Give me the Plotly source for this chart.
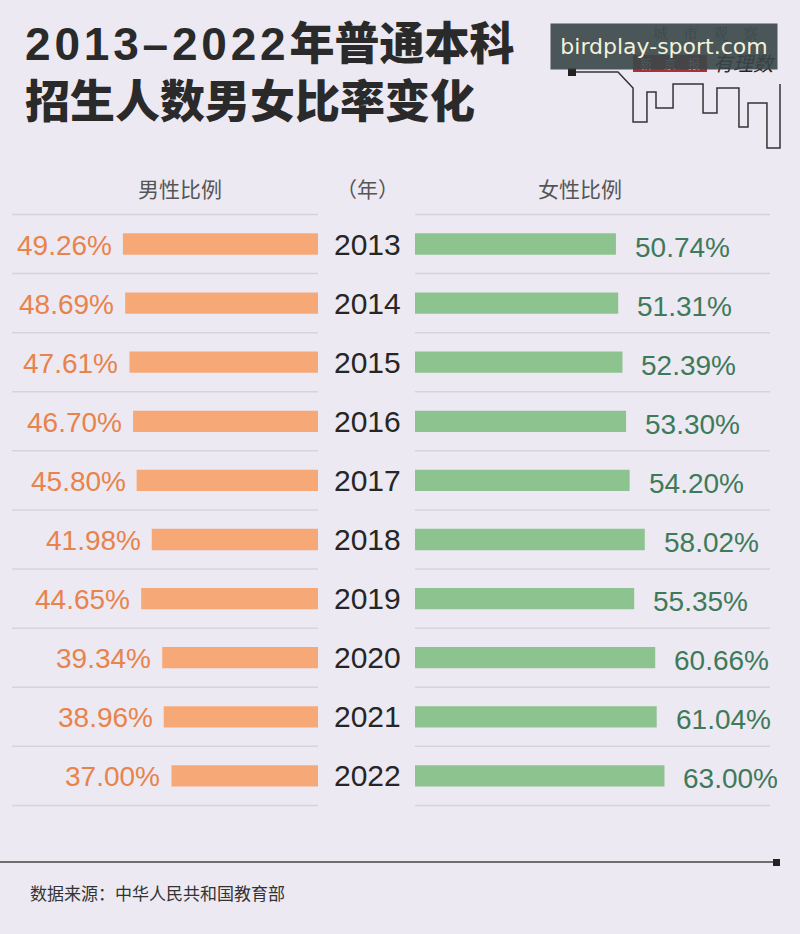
import plotly.graph_objects as go

years = ["2013", "2014", "2015", "2016", "2017", "2018", "2019", "2020", "2021", "2022"]
male = [49.26, 48.69, 47.61, 46.70, 45.80, 41.98, 44.65, 39.34, 38.96, 37.00]
female = [50.74, 51.31, 52.39, 53.30, 54.20, 58.02, 55.35, 60.66, 61.04, 63.00]
male_labels = ["49.26%", "48.69%", "47.61%", "46.70%", "45.80%", "41.98%", "44.65%", "39.34%", "38.96%", "37.00%"]
female_labels = ["50.74%", "51.31%", "52.39%", "53.30%", "54.20%", "58.02%", "55.35%", "60.66%", "61.04%", "63.00%"]

W, H = 800, 934
BG = "#ECE9F2"
ORANGE_BAR = "#F7A877"
ORANGE_TXT = "#E8834C"
GREEN_BAR = "#8DC38F"
GREEN_TXT = "#3E7A5A"
LINE = "#D5D4DA"
LATIN = "Liberation Sans, Arial, sans-serif"
CJK = "Noto Sans CJK SC, sans-serif"

PX_PER_PCT = 3.96
MALE_ZERO = 318
FEMALE_ZERO = 415
ROW0 = 244
ROW_STEP = 59.1

fig = go.Figure()

fig.add_trace(go.Bar(
    y=years, x=male, orientation="h", xaxis="x", yaxis="y",
    marker=dict(color=ORANGE_BAR, line=dict(width=0)), width=0.36,
    hoverinfo="skip", showlegend=False,
))
fig.add_trace(go.Bar(
    y=years, x=female, orientation="h", xaxis="x2", yaxis="y",
    marker=dict(color=GREEN_BAR, line=dict(width=0)), width=0.36,
    hoverinfo="skip", showlegend=False,
))

y_top = -ROW0 / ROW_STEP
y_bot = (H - ROW0) / ROW_STEP

fig.update_layout(
    width=W, height=H,
    margin=dict(l=0, r=0, t=0, b=0),
    paper_bgcolor=BG, plot_bgcolor="rgba(0,0,0,0)",
    xaxis=dict(domain=[0, MALE_ZERO / W], range=[MALE_ZERO / PX_PER_PCT, 0],
               visible=False, fixedrange=True),
    xaxis2=dict(domain=[FEMALE_ZERO / W, 1], range=[0, (W - FEMALE_ZERO) / PX_PER_PCT],
                visible=False, fixedrange=True),
    yaxis=dict(type="category", categoryorder="array", categoryarray=years,
               range=[y_bot, y_top], visible=False, domain=[0, 1], fixedrange=True),
)

shapes = []
for i in range(len(years) + 1):
    yv = i - 0.5
    shapes.append(dict(type="line", xref="paper", yref="y", x0=12 / W, x1=MALE_ZERO / W,
                       y0=yv, y1=yv, line=dict(color=LINE, width=1.5)))
    shapes.append(dict(type="line", xref="paper", yref="y", x0=FEMALE_ZERO / W, x1=770 / W,
                       y0=yv, y1=yv, line=dict(color=LINE, width=1.5)))
shapes.append(dict(type="line", xref="paper", yref="paper", x0=0, x1=776 / W,
                   y0=1 - 862 / H, y1=1 - 862 / H, line=dict(color="#444444", width=1.5)))
shapes.append(dict(type="rect", xref="paper", yref="paper", x0=773 / W, x1=780 / W,
                   y0=1 - 866 / H, y1=1 - 859 / H, fillcolor="#222222", line=dict(width=0)))

sky = [(572, 72), (618, 72), (633, 88), (633, 122), (647, 122), (647, 92), (656, 92),
       (656, 108), (673, 108), (673, 84), (703, 84), (703, 113), (717, 113), (717, 88),
       (739, 88), (739, 127), (748, 127), (748, 103), (767, 103), (767, 148), (780, 148),
       (780, 84)]
path = "M " + " L ".join(f"{x / W:.4f},{1 - y / H:.4f}" for x, y in sky)
shapes.append(dict(type="path", xref="paper", yref="paper", path=path,
                   line=dict(color="#333333", width=1.5)))
shapes.append(dict(type="rect", xref="paper", yref="paper", x0=568 / W, x1=576 / W,
                   y0=1 - 76 / H, y1=1 - 68 / H, fillcolor="#222222", line=dict(width=0)))
shapes.append(dict(type="rect", xref="paper", yref="paper", x0=633 / W, x1=707 / W,
                   y0=1 - 72 / H, y1=1 - 55 / H, fillcolor="#A8323A", line=dict(width=0)))

annotations = []
title_font = dict(family="Liberation Sans, Noto Sans CJK SC, sans-serif", size=45, color="#2A2A2A", weight=900)
annotations.append(dict(
    text='<span style="font-size:46px;letter-spacing:3.8px">2013–2022</span>年普通本科',
    x=23 / W, y=1 - 44 / H, xref="paper", yref="paper",
    xanchor="left", yanchor="middle", showarrow=False, font=title_font))
annotations.append(dict(text="招生人数男女比率变化", x=23 / W, y=1 - 103 / H, xref="paper", yref="paper",
                        xanchor="left", yanchor="middle", showarrow=False, font=title_font))
for txt, xc in [("男性比例", 180), ("（年）", 367), ("女性比例", 580)]:
    annotations.append(dict(text=txt, x=xc / W, y=1 - 188 / H, xref="paper", yref="paper",
                            xanchor="center", yanchor="middle", showarrow=False,
                            font=dict(family=CJK, size=21, color="#555555")))
for i, yr in enumerate(years):
    annotations.append(dict(text=yr, x=367 / W, y=i, xref="paper", yref="y",
                            xanchor="center", yanchor="middle", showarrow=False,
                            font=dict(family=LATIN, size=30, color="#262626")))
    annotations.append(dict(text=male_labels[i], x=male[i], y=i, xref="x", yref="y",
                            xanchor="right", yanchor="middle", xshift=-9, yshift=-1, showarrow=False,
                            font=dict(family=LATIN, size=28, color=ORANGE_TXT)))
    annotations.append(dict(text=female_labels[i], x=female[i], y=i, xref="x2", yref="y",
                            xanchor="left", yanchor="middle", xshift=17, yshift=-3, showarrow=False,
                            font=dict(family=LATIN, size=28, color=GREEN_TXT)))
annotations.append(dict(text="数据来源：中华人民共和国教育部", x=28 / W, y=1 - 892 / H, xref="paper", yref="paper",
                        xanchor="left", yanchor="middle", showarrow=False,
                        font=dict(family=CJK, size=17, color="#333333")))
# logo texts
annotations.append(dict(text="城　市　观　察", x=705 / W, y=1 - 32 / H, xref="paper", yref="paper",
                        xanchor="center", yanchor="middle", showarrow=False,
                        font=dict(family="Noto Serif CJK SC, " + CJK, size=15, color="#666666")))
annotations.append(dict(text="新　京　报", x=670 / W, y=1 - 64 / H, xref="paper", yref="paper",
                        xanchor="center", yanchor="middle", showarrow=False,
                        font=dict(family=CJK, size=12, color="#EEEEEE")))
annotations.append(dict(text="<i>有理数</i>", x=744 / W, y=1 - 62 / H, xref="paper", yref="paper",
                        xanchor="center", yanchor="middle", showarrow=False,
                        font=dict(family=CJK, size=20, color="#222222")))
annotations.append(dict(text="birdplay-sport.com", x=664 / W, y=1 - 46.5 / H, xref="paper", yref="paper",
                        xanchor="center", yanchor="middle", showarrow=False,
                        width=218, height=37, borderpad=4,
                        bgcolor="rgba(58,70,72,0.90)",
                        font=dict(family="DejaVu Sans, sans-serif", size=22, color="#F3F1DC")))

fig.update_layout(shapes=shapes, annotations=annotations)
fig.write_html("out.html")
